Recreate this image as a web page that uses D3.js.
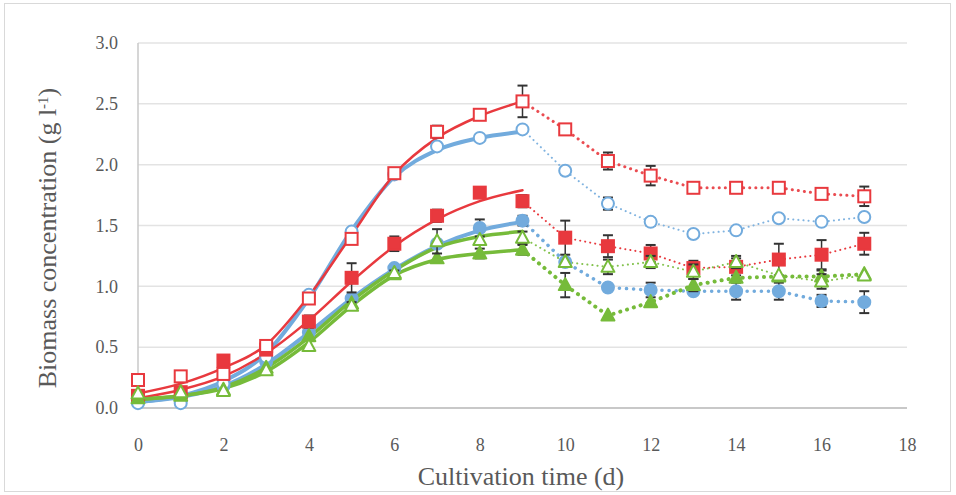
<!DOCTYPE html>
<html>
<head>
<meta charset="utf-8">
<script src="https://cdn.jsdelivr.net/npm/d3@7/dist/d3.min.js"></script>
<style>
  html, body { margin: 0; padding: 0; background: #fff; }
  svg { display: block; }
  .tick text { font-family: "Liberation Serif", "DejaVu Serif", serif; fill: #595959; }
</style>
</head>
<body>
<svg id="chart" width="956" height="495"></svg>
<script>
// Cultivation days and measured biomass (g/l) for six cultures
const days = [0, 1, 2, 3, 4, 5, 6, 7, 8, 9, 10, 11, 12, 13, 14, 15, 16, 17];
const fitDays = [0, 1, 2, 3, 4, 5, 6, 7, 8, 9];
const xTicks = [0, 2, 4, 6, 8, 10, 12, 14, 16, 18];
const yTicks = [0, 0.5, 1.0, 1.5, 2.0, 2.5, 3.0];

const redOpen   = [0.23, 0.26, 0.28, 0.51, 0.90, 1.39, 1.93, 2.27, 2.41, 2.52, 2.29, 2.03, 1.91, 1.81, 1.81, 1.81, 1.76, 1.74];
const blueOpen  = [0.04, 0.04, 0.20, 0.42, 0.93, 1.45, 1.92, 2.15, 2.22, 2.29, 1.95, 1.68, 1.53, 1.43, 1.46, 1.56, 1.53, 1.57];
const redFill   = [0.10, 0.13, 0.39, 0.48, 0.71, 1.07, 1.35, 1.58, 1.77, 1.70, 1.40, 1.33, 1.27, 1.15, 1.16, 1.22, 1.26, 1.35];
const blueFill  = [0.05, 0.08, 0.18, 0.38, 0.62, 0.90, 1.15, 1.35, 1.48, 1.54, 1.20, 0.99, 0.97, 0.96, 0.96, 0.96, 0.88, 0.87];
const greenOpen = [0.12, 0.13, 0.14, 0.31, 0.51, 0.84, 1.11, 1.37, 1.38, 1.40, 1.20, 1.16, 1.20, 1.12, 1.20, 1.09, 1.04, 1.09];
const greenFill = [0.08, 0.10, 0.15, 0.33, 0.59, 0.86, 1.10, 1.23, 1.27, 1.30, 1.01, 0.76, 0.87, 1.01, 1.07, 1.08, 1.08, 1.10];

// standard deviations (0 where no bar is shown)
const redOpenSd   = [0, 0, 0, 0, 0, 0, 0.03, 0.05, 0.03, 0.13, 0, 0.07, 0.08, 0, 0, 0, 0, 0.08];
const blueOpenSd  = [0, 0, 0, 0, 0, 0, 0, 0, 0, 0.02, 0, 0.05, 0.03, 0, 0, 0, 0, 0];
const redFillSd   = [0, 0, 0.04, 0, 0.05, 0.12, 0.06, 0.05, 0.04, 0.05, 0.14, 0.09, 0.07, 0.06, 0.07, 0.13, 0.12, 0.09];
const blueFillSd  = [0, 0, 0, 0, 0, 0, 0, 0, 0.07, 0.04, 0, 0, 0.06, 0, 0.07, 0.07, 0.05, 0.09];
const greenOpenSd = [0, 0, 0, 0, 0, 0.03, 0, 0.1, 0, 0.05, 0, 0.06, 0.05, 0.06, 0.05, 0, 0.06, 0];
const greenFillSd = [0, 0, 0, 0, 0, 0, 0.03, 0, 0.04, 0.04, 0.1, 0, 0, 0.05, 0, 0, 0.05, 0];

// model curves over the growth phase (days 0-9)
const redOpenFit   = [0.12, 0.20, 0.33, 0.52, 0.92, 1.42, 1.92, 2.22, 2.40, 2.52];
const blueOpenFit  = [0.05, 0.10, 0.22, 0.45, 0.90, 1.46, 1.90, 2.12, 2.22, 2.27];
const redFillFit   = [0.08, 0.15, 0.26, 0.45, 0.72, 1.04, 1.33, 1.55, 1.70, 1.79];
const blueFillFit  = [0.05, 0.09, 0.18, 0.36, 0.62, 0.90, 1.14, 1.33, 1.46, 1.53];
const greenOpenFit = [0.07, 0.10, 0.17, 0.33, 0.58, 0.88, 1.13, 1.32, 1.41, 1.45];
const greenFillFit = [0.07, 0.10, 0.16, 0.30, 0.54, 0.84, 1.09, 1.22, 1.27, 1.30];

const RED = "#e8393e", BLUE = "#72abdd", GREEN = "#76bb3a";

// drawing order: blue, then red, then green on top
const series = [
  { vals: blueFill,  sd: blueFillSd,  fit: blueFillFit,  color: BLUE,  shape: "circ", filled: true,  fitW: 4,   dotW: 3.5, dotGap: 7 },
  { vals: blueOpen,  sd: blueOpenSd,  fit: blueOpenFit,  color: BLUE,  shape: "circ", filled: false, fitW: 4,   dotW: 2,   dotGap: 5 },
  { vals: redFill,   sd: redFillSd,   fit: redFillFit,   color: RED,   shape: "sq",  filled: true,  fitW: 2.5, dotW: 2,   dotGap: 5 },
  { vals: redOpen,   sd: redOpenSd,   fit: redOpenFit,   color: RED,   shape: "sq",  filled: false, fitW: 2.5, dotW: 3,   dotGap: 6 },
  { vals: greenFill, sd: greenFillSd, fit: greenFillFit, color: GREEN, shape: "tri", filled: true,  fitW: 3.5, dotW: 4,   dotGap: 7 },
  { vals: greenOpen, sd: greenOpenSd, fit: greenOpenFit, color: GREEN, shape: "tri", filled: false, fitW: 3.5, dotW: 2,   dotGap: 5 }
];

const svg = d3.select("#chart");
const x = d3.scaleLinear().domain([0, 18]).range([138, 907]);
const y = d3.scaleLinear().domain([0, 3]).range([408, 43]);
const serif = "Liberation Serif, DejaVu Serif, serif";

// frame
svg.append("rect").attr("x", 4.5).attr("y", 3.5).attr("width", 946).attr("height", 488)
  .attr("fill", "none").attr("stroke", "#d9d9d9");

// horizontal gridlines
svg.append("g").selectAll("line").data(yTicks.filter(v => v > 0)).join("line")
  .attr("x1", x(0)).attr("x2", x(18)).attr("y1", d => y(d)).attr("y2", d => y(d))
  .attr("stroke", "#e3e3e3").attr("stroke-width", 1.5);

// axes
const yAxis = svg.append("g").attr("transform", `translate(${x(0)},0)`)
  .call(d3.axisLeft(y).tickValues(yTicks).tickFormat(d3.format(".1f")).tickSize(0).tickPadding(20));
yAxis.select(".domain").remove();
yAxis.selectAll("text").attr("font-size", 18);

const xAxis = svg.append("g").attr("transform", `translate(0,${y(0)})`)
  .call(d3.axisBottom(x).tickValues(xTicks).tickFormat(d3.format("d")).tickSize(0).tickPadding(30));
xAxis.select(".domain").remove();
xAxis.selectAll("text").attr("font-size", 18);

svg.append("line").attr("x1", x(0)).attr("x2", x(0)).attr("y1", y(3)).attr("y2", y(0))
  .attr("stroke", "#c8c8c8").attr("stroke-width", 1.5);
svg.append("line").attr("x1", x(0)).attr("x2", x(18)).attr("y1", y(0)).attr("y2", y(0))
  .attr("stroke", "#c8c8c8").attr("stroke-width", 2);

// axis titles
svg.append("text").attr("x", 521).attr("y", 485).attr("text-anchor", "middle")
  .attr("font-family", serif).attr("font-size", 26).attr("fill", "#595959")
  .text("Cultivation time (d)");

const yt = svg.append("text").attr("transform", "translate(56,238) rotate(-90)").attr("text-anchor", "middle")
  .attr("font-family", serif).attr("font-size", 26).attr("fill", "#595959");
yt.append("tspan").text("Biomass concentration (g l");
yt.append("tspan").attr("baseline-shift", "super").attr("font-size", 15).text("-1");
yt.append("tspan").text(")");

// model curves
const fitLine = d3.line().x((d, i) => x(fitDays[i])).y(d => y(d)).curve(d3.curveMonotoneX);
series.forEach(s => {
  svg.append("path").attr("d", fitLine(s.fit)).attr("fill", "none")
    .attr("stroke", s.color).attr("stroke-width", s.fitW).attr("stroke-linecap", "round");
});

// stationary-phase connectors (day 9 onward)
const dotLine = d3.line().x(d => x(d[0])).y(d => y(d[1]));
series.forEach(s => {
  const pts = days.map((d, i) => [d, s.vals[i]]).filter(p => p[0] >= 9);
  svg.append("path").attr("d", dotLine(pts)).attr("fill", "none")
    .attr("stroke", s.color).attr("stroke-width", s.dotW).attr("stroke-linecap", "round")
    .attr("stroke-dasharray", `0.1 ${s.dotGap}`).attr("opacity", s.filled ? 1 : 0.9);
});

// error bars and markers
series.forEach(s => {
  const g = svg.append("g");
  days.forEach((d, i) => {
    const sd = s.sd[i];
    const cx = x(d), cy = y(s.vals[i]);
    if (sd > 0) {
      const y1 = y(s.vals[i] + sd), y2 = y(s.vals[i] - sd);
      g.append("line").attr("x1", cx).attr("x2", cx).attr("y1", y1).attr("y2", y2)
        .attr("stroke", "#333").attr("stroke-width", 1.5);
      [y1, y2].forEach(yy => g.append("line").attr("x1", cx - 5).attr("x2", cx + 5)
        .attr("y1", yy).attr("y2", yy).attr("stroke", "#333").attr("stroke-width", 2));
    }
    const fill = s.filled ? s.color : "#fff";
    if (s.shape === "sq") {
      g.append("rect").attr("x", cx - 6).attr("y", cy - 6).attr("width", 12).attr("height", 12)
        .attr("fill", fill).attr("stroke", s.color).attr("stroke-width", 2);
    } else if (s.shape === "circ") {
      g.append("circle").attr("cx", cx).attr("cy", cy).attr("r", 6)
        .attr("fill", fill).attr("stroke", s.color).attr("stroke-width", 2);
    } else {
      g.append("path").attr("d", `M${cx},${cy - 7}L${cx + 6.5},${cy + 5}L${cx - 6.5},${cy + 5}Z`)
        .attr("fill", fill).attr("stroke", s.color).attr("stroke-width", 2).attr("stroke-linejoin", "round");
    }
  });
});
</script>
</body>
</html>
